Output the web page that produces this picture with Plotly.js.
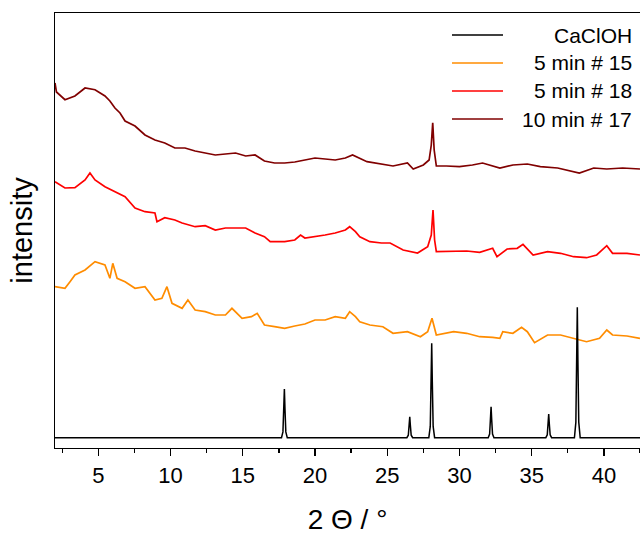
<!DOCTYPE html>
<html>
<head>
<meta charset="utf-8">
<script src="https://cdn.plot.ly/plotly-3.0.1.min.js"></script>
<style>html,body{margin:0;padding:0;background:#fff;}#chart{width:640px;height:538px;}</style>
</head>
<body>
<div id="chart"></div>
<script>
// Series names (legend order)
const seriesNames = ["CaClOH", "5 min # 15", "5 min # 18", "10 min # 17"];
const seriesColors = ["#000000", "#ff8c00", "#ff0000", "#800000"];

// CaClOH reference pattern (2Theta, intensity)
const caclohX = [2.0, 17.68, 17.78, 17.84, 17.88, 17.92, 17.98, 18.08,
  26.36, 26.46, 26.52, 26.56, 26.60, 26.66, 26.76,
  27.88, 27.98, 28.04, 28.08, 28.12, 28.18, 28.28,
  31.99, 32.09, 32.15, 32.19, 32.23, 32.29, 32.39,
  35.98, 36.08, 36.14, 36.18, 36.22, 36.28, 36.38,
  37.96, 38.06, 38.12, 38.16, 38.20, 38.26, 38.36, 42.5];
const caclohY = [10.3, 10.3, 16.1, 39.5, 59.0, 39.5, 16.1, 10.3,
  10.3, 12.8, 22.9, 31.3, 22.9, 12.8, 10.3,
  10.3, 21.6, 66.9, 104.7, 66.9, 21.6, 10.3,
  10.3, 14.0, 28.9, 41.3, 28.9, 14.0, 10.3,
  10.3, 13.1, 24.5, 34.0, 24.5, 13.1, 10.3,
  10.3, 25.9, 88.5, 140.7, 88.5, 25.9, 10.3, 10.3];

// 5 min # 15
const min5n15X = [2.0, 2.69, 3.04, 3.38, 4.08, 4.77, 5.46, 5.8, 6.0, 6.3, 6.85, 7.54, 8.23, 8.92, 9.4, 9.75, 10.1, 10.8, 11.2, 11.7, 12.4, 13.1, 13.8, 14.25, 14.95, 15.6, 16.0, 16.5, 17.2, 17.9, 18.6, 19.3, 20.0, 20.7, 21.4, 22.1, 22.4, 22.8, 23.1, 23.8, 24.7, 25.4, 26.4, 27.3, 27.8, 28.1, 28.4, 29.6, 30.5, 31.4, 32.3, 32.8, 33.0, 33.7, 34.3, 34.7, 35.2, 36.1, 37.0, 37.9, 38.8, 39.7, 40.2, 40.6, 41.6, 42.5];
const min5n15Y = [161.3, 159.7, 166.3, 173, 178, 186.3, 183, 169.7, 184.7, 169.7, 166.3, 159.7, 161.3, 148, 149.7, 161.3, 144.7, 139.7, 148, 138, 136.3, 133, 133, 139.7, 129.7, 131.3, 134.7, 123, 121.3, 119.7, 122, 124, 128, 128, 131.3, 129.7, 136.3, 131.3, 126.3, 123, 121.3, 114.7, 116.3, 111.3, 116.3, 129.7, 113, 116.3, 114.7, 111.3, 110.7, 109.7, 116.3, 114.7, 120.7, 116.3, 105.3, 113, 113, 109.7, 106.3, 109.7, 118, 113, 112, 109.7];

// 5 min # 18
const min5n18X = [2.0, 2.69, 3.38, 4.08, 4.42, 4.77, 5.46, 6.15, 6.85, 7.54, 8.23, 8.92, 9.06, 9.6, 10.3, 10.8, 11.7, 12.4, 13.1, 13.8, 14.5, 15.2, 15.85, 16.5, 16.9, 17.9, 18.6, 19.0, 19.3, 20.0, 20.7, 21.4, 22.1, 22.4, 22.8, 23.1, 23.8, 24.6, 25.2, 26.1, 27.1, 27.8, 28.05, 28.17, 28.28, 28.4, 29.3, 30.5, 31.4, 32.3, 32.6, 33.3, 34.0, 34.4, 35.1, 36.1, 37.0, 37.9, 38.8, 39.5, 40.2, 40.6, 41.6, 42.5];
const min5n18Y = [266.3, 260, 260.3, 268, 275, 268, 261.3, 256.3, 251.3, 240, 236.3, 235, 226.3, 230.3, 228, 225, 221.3, 222.3, 218, 220, 220.3, 220, 215, 211.3, 206.3, 206.3, 208, 213, 210, 211.3, 213, 215, 218, 221.3, 216.3, 211.3, 206.3, 205, 205, 198, 195, 201.3, 213, 238, 208, 196.3, 196.3, 197, 195.7, 199.7, 191.3, 199, 199.7, 203.7, 193, 196.3, 194.7, 191.3, 190.3, 193, 202.3, 194.7, 194.7, 193];

// 10 min # 17
const min10n17X = [2.0, 2.1, 2.69, 3.38, 4.08, 4.77, 5.46, 5.8, 6.15, 6.5, 6.85, 7.54, 8.23, 8.92, 9.6, 10.3, 11.0, 11.7, 12.4, 13.1, 13.8, 14.5, 15.2, 15.85, 16.5, 17.2, 17.9, 18.6, 19.3, 20.0, 20.7, 21.4, 22.1, 22.6, 23.6, 24.5, 25.4, 26.4, 26.8, 27.5, 27.9, 28.05, 28.15, 28.25, 28.4, 29.1, 30.0, 30.9, 31.6, 32.8, 33.7, 34.7, 35.6, 36.8, 37.9, 38.3, 39.3, 40.2, 41.3, 42.5];
const min10n17Y = [365, 356, 348.3, 352, 360, 358.3, 352, 347, 340, 335, 327, 322, 313, 308, 305, 300, 300, 297, 295, 293, 294, 295, 292, 293, 287, 285, 285, 286, 288, 290, 289, 288, 290, 293, 286.3, 284, 282, 285, 279, 283, 288, 303, 325.3, 298, 282, 282, 281.3, 283, 285, 280, 283, 284, 281.3, 280, 276.3, 275, 280, 279, 280, 279];

const xTickVals = [5, 10, 15, 20, 25, 30, 35, 40];
const xTickText = ["5", "10", "15", "20", "25", "30", "35", "40"];

const FONT = "Liberation Sans, Arial, sans-serif";

const seriesX = [caclohX, min5n15X, min5n18X, min10n17X];
const seriesY = [caclohY, min5n15Y, min5n18Y, min10n17Y];
const drawOrder = [1, 2, 3, 0];

const traces = drawOrder.map(i => ({
  x: seriesX[i], y: seriesY[i], type: "scatter", mode: "lines",
  name: seriesNames[i], showlegend: false,
  line: {color: seriesColors[i], width: i === 0 ? 1.5 : 1.7}
}));

// custom right-aligned legend
const legRowsY = [0.9494, 0.8851, 0.8207, 0.7563];
const shapes = [];
const annotations = [];
seriesNames.forEach((n, i) => {
  shapes.push({type: "line", xref: "paper", yref: "paper", x0: 0.6786, x1: 0.7658,
    y0: legRowsY[i], y1: legRowsY[i], line: {color: seriesColors[i], width: 1.5}});
  annotations.push({xref: "paper", yref: "paper", x: 0.9897, y: legRowsY[i],
    xanchor: "right", yanchor: "middle", text: n, showarrow: false,
    font: {family: FONT, size: 21, color: "#000"}});
});

const layout = {
  width: 640, height: 538,
  margin: {l: 55, r: 0, t: 13, b: 90},
  paper_bgcolor: "#fff", plot_bgcolor: "#fff",
  font: {family: FONT, color: "#000"},
  showlegend: false,
  xaxis: {
    range: [2, 42.5], showgrid: false, zeroline: false,
    showline: true, linecolor: "#000", linewidth: 1.3, mirror: true,
    ticks: "outside", ticklen: 7, tickwidth: 1.3, tickcolor: "#000",
    tickvals: xTickVals, ticktext: xTickText,
    tickfont: {family: FONT, size: 22, color: "#000"},
    minor: {dtick: 2.5, tick0: 0, ticks: "outside", ticklen: 4, tickwidth: 1.3, tickcolor: "#000", showgrid: false},
    title: {text: "2 Θ / °", font: {family: FONT, size: 28, color: "#000"}, standoff: 22}
  },
  yaxis: {
    range: [0, 435], showgrid: false, zeroline: false,
    showline: true, linecolor: "#000", linewidth: 1.3, mirror: false,
    ticks: "", showticklabels: false,
    title: {text: "intensity", font: {family: FONT, size: 29, color: "#000"}, standoff: 12}
  },
  shapes: shapes,
  annotations: annotations
};

Plotly.newPlot("chart", traces, layout, {displayModeBar: false, staticPlot: true});
</script>
</body>
</html>
